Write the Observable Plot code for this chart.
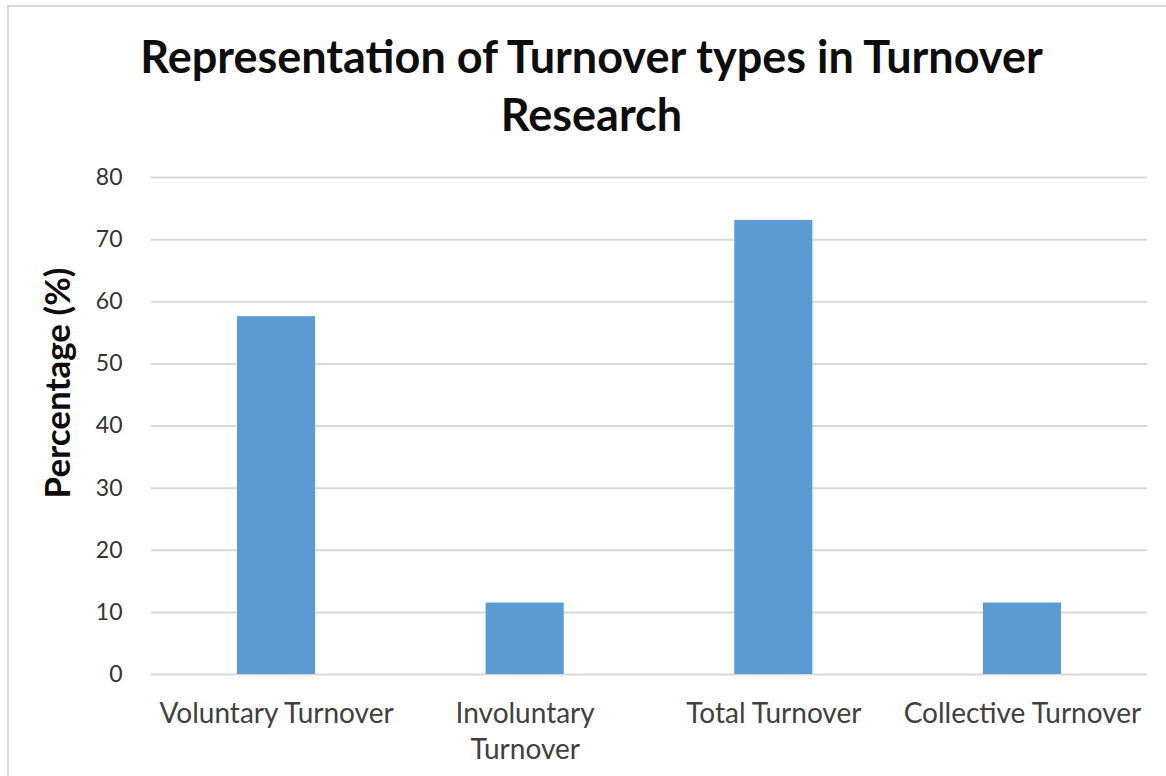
<!DOCTYPE html>
<html>
<head>
<meta charset="utf-8">
<script src="https://cdn.jsdelivr.net/npm/d3@7"></script>
<script src="https://cdn.jsdelivr.net/npm/@observablehq/plot@0.6"></script>
<style>
  html, body { margin: 0; padding: 0; background: #fff; }
  body { width: 1166px; height: 776px; overflow: hidden; position: relative; font-family: Lato, "Open Sans", sans-serif; }
  #frame { position: absolute; left: 7px; top: 5px; width: 1200px; height: 800px; border: 2px solid #d9d9d9; box-sizing: border-box; }
  #title { position: absolute; left: 0; top: 27px; width: 1183px; text-align: center; font-weight: 700; font-size: 45px; line-height: 58px; color: #0d0d0d; }
  #chart { position: absolute; left: 0; top: 160px; }
</style>
</head>
<body>
<div id="frame"></div>
<div id="title">Representation of Turnover types in Turnover<br>Research</div>
<div id="chart"></div>
<script>
// Share of turnover studies covering each turnover type
const categories = ["Voluntary Turnover", "Involuntary Turnover", "Total Turnover", "Collective Turnover"];
const tickLabels = ["Voluntary Turnover", "Involuntary\nTurnover", "Total Turnover", "Collective Turnover"];
const percentages = [57.6, 11.5, 73.1, 11.5];
const yTicks = [0, 10, 20, 30, 40, 50, 60, 70, 80];
const yLabel = "Percentage (%)";

const rows = categories.map((c, i) => ({category: c, value: percentages[i]}));

const chart = Plot.plot({
  width: 1166,
  height: 616,
  marginTop: 17,
  marginRight: 19,
  marginBottom: 102,
  marginLeft: 151,
  style: {fontFamily: "Lato, 'Open Sans', sans-serif", background: "transparent"},
  x: {domain: categories, paddingInner: 0.686, paddingOuter: 0.346, round: false, axis: null},
  y: {domain: [0, 80], axis: null},
  marks: [
    Plot.ruleY(yTicks, {stroke: "#d9d9d9", strokeWidth: 2}),
    Plot.barY(rows, {x: "category", y: "value", fill: "#5b9bd5"}),
    Plot.axisX({
      tickSize: 0,
      tickPadding: 23,
      fontSize: 28,
      lineHeight: 1.29,
      color: "#404040",
      label: null,
      tickFormat: (d) => tickLabels[categories.indexOf(d)]
    }),
    Plot.axisY({
      ticks: yTicks,
      tickSize: 0,
      tickPadding: 29,
      fontSize: 23,
      color: "#333333",
      label: null
    }),
    Plot.text([yLabel], {
      frameAnchor: "left",
      dx: -93,
      dy: -43,
      rotate: -90,
      textAnchor: "middle",
      lineAnchor: "middle",
      text: (d) => d,
      fontSize: 35,
      fontWeight: 700,
      fill: "#0d0d0d"
    })
  ]
});

document.getElementById("chart").appendChild(chart);
</script>
</body>
</html>
